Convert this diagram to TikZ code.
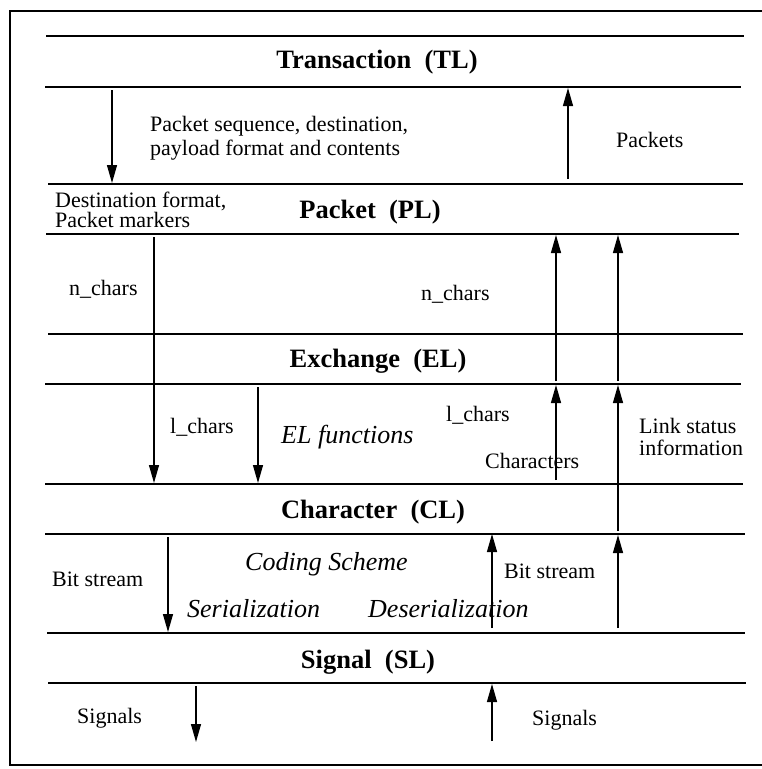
\documentclass[tikz,border=0pt]{standalone}
\usepackage{fontspec}
\setmainfont{Liberation Serif}
\usetikzlibrary{arrows.meta}

\begin{document}
\begin{tikzpicture}[x=1pt,y=-1pt,
  layer/.style={line width=1.3pt},
  frame/.style={line width=2.2pt},
  flow/.style={line width=1.3pt,-{Triangle[length=18pt,width=10pt]}},
  title/.style={anchor=base,inner sep=0pt,font=\fontsize{26.5}{28}\selectfont\bfseries},
  txt/.style={anchor=base west,align=left,inner sep=0pt,font=\fontsize{22}{23}\selectfont},
  fn/.style={anchor=base west,inner sep=0pt,font=\fontsize{26}{28}\selectfont\itshape}]
\useasboundingbox (0,0) rectangle (762,769);
\draw[frame] (9,11) -- (762,11);
\draw[frame] (10,10) -- (10,766);
\draw[frame] (9,765) -- (762,765);
\draw[layer] (46,36) -- (744,36);
\draw[layer] (45,87) -- (741,87);
\draw[layer] (48,184) -- (743,184);
\draw[layer] (46,234) -- (739,234);
\draw[layer] (48,334) -- (743,334);
\draw[layer] (45,384) -- (741,384);
\draw[layer] (45,484) -- (743,484);
\draw[layer] (45,534) -- (745,534);
\draw[layer] (47,633) -- (745,633);
\draw[layer] (48,683) -- (746,683);
\draw (377,68)  node (tl) [title] {Transaction\ \ (TL)};
\draw (370,218) node (pl) [title] {Packet\ \ (PL)};
\draw (378,367) node (el) [title] {Exchange\ \ (EL)};
\draw (373,518) node (cl) [title] {Character\ \ (CL)};
\draw (368,668) node (sl) [title] {Signal\ \ (SL)};
\draw (150,155) node (seq) [txt, font=\fontsize{22}{24}\selectfont] {Packet sequence, destination,\\payload format and contents};
\draw (616,147) node (pk)  [txt] {Packets};
\draw (55,227)  node (dst) [txt, font=\fontsize{22}{20}\selectfont] {Destination format,\\Packet markers};
\draw (69,295)  node (nl)  [txt] {n\_chars};
\draw (421,300) node (nr)  [txt] {n\_chars};
\draw (170,433) node (ll)  [txt] {l\_chars};
\draw (281,443) node (elf) [fn]  {EL functions};
\draw (446,421) node (lr)  [txt] {l\_chars};
\draw (485,468) node (chs) [txt] {Characters};
\draw (639,455) node (lnk) [txt, font=\fontsize{22}{22}\selectfont] {Link status\\information};
\draw (52,586)  node (bsl) [txt] {Bit stream};
\draw (245,570) node (cod) [fn]  {Coding Scheme};
\draw (187,617) node (ser) [fn]  {Serialization};
\draw (368,617) node (des) [fn]  {Deserialization};
\draw (504,578) node (bsr) [txt] {Bit stream};
\draw (77,723)  node (sgl) [txt] {Signals};
\draw (532,725) node (sgr) [txt] {Signals};
\coordinate (td1) at (112,90);  \coordinate (td2) at (112,183);
\coordinate (tu1) at (568,179); \coordinate (tu2) at (568,88);
\coordinate (pd1) at (154,237); \coordinate (pd2) at (154,483);
\coordinate (ed1) at (258,387); \coordinate (ed2) at (258,483);
\coordinate (cu1) at (556,480); \coordinate (cu2) at (556,385);
\coordinate (cu3) at (556,381); \coordinate (cu4) at (556,235);
\coordinate (ku1) at (618,628); \coordinate (ku2) at (618,535);
\coordinate (ku3) at (618,531); \coordinate (ku4) at (618,385);
\coordinate (ku5) at (618,381); \coordinate (ku6) at (618,235);
\coordinate (bd1) at (168,537); \coordinate (bd2) at (168,632);
\coordinate (bu1) at (492,628); \coordinate (bu2) at (492,534);
\coordinate (sd1) at (196,686); \coordinate (sd2) at (196,742);
\coordinate (su1) at (492,741); \coordinate (su2) at (492,684);
\draw[flow] (td1) -- (td2);
\draw[flow] (tu1) -- (tu2);
\draw[flow] (pd1) -- (pd2);
\draw[flow] (ed1) -- (ed2);
\draw[flow] (cu1) -- (cu2);
\draw[flow] (cu3) -- (cu4);
\draw[flow] (ku1) -- (ku2);
\draw[flow] (ku3) -- (ku4);
\draw[flow] (ku5) -- (ku6);
\draw[flow] (bd1) -- (bd2);
\draw[flow] (bu1) -- (bu2);
\draw[flow] (sd1) -- (sd2);
\draw[flow] (su1) -- (su2);
\end{tikzpicture}
\end{document}
